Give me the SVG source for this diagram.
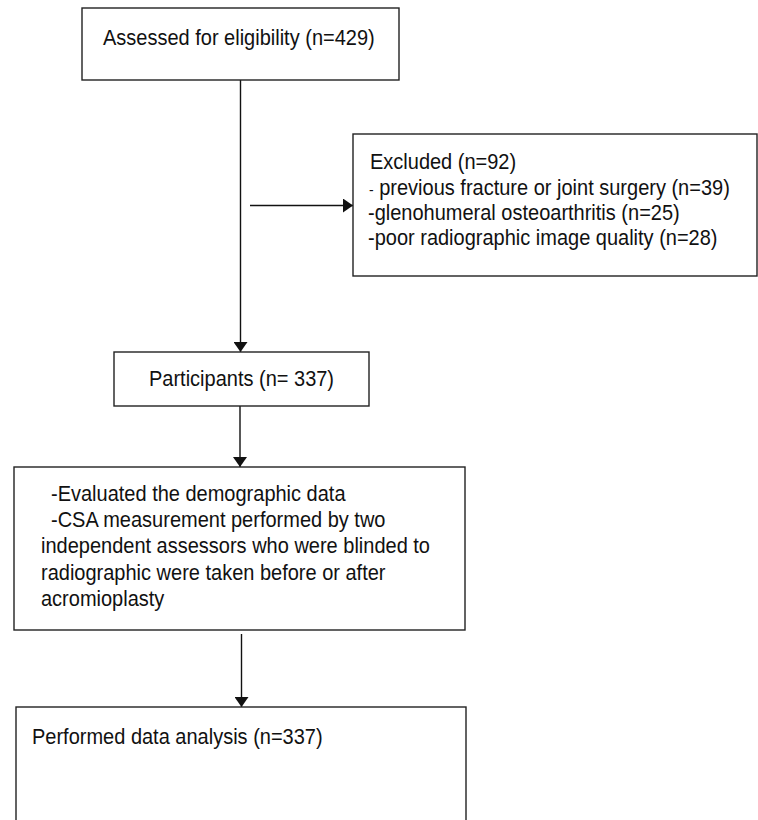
<svg xmlns="http://www.w3.org/2000/svg" width="758" height="820" viewBox="0 0 758 820">
<defs>
<marker id="ah" viewBox="0 0 10 14" refX="10" refY="7" markerWidth="10" markerHeight="14" markerUnits="userSpaceOnUse" orient="auto">
<path d="M0,0 L10,7 L0,14 Z" fill="#111"/>
</marker>
<style>
.box{fill:#fff;stroke:#222;stroke-width:1.4}
.t{font-family:"Liberation Sans",Arial,sans-serif;font-size:20px;fill:#111}
.c{stroke:#111;stroke-width:1.4;fill:none;marker-end:url(#ah)}
</style>
</defs>
<rect width="758" height="820" fill="#fff"/>
<g id="connectors">
<line class="c" x1="240.5" y1="80" x2="240.5" y2="352"/>
<line class="c" x1="250" y1="205.5" x2="353" y2="205.5"/>
<line class="c" x1="240" y1="406" x2="240" y2="467"/>
<line class="c" x1="241.5" y1="634" x2="241.5" y2="707"/>
</g>
<g id="assessed">
<rect class="box" x="82" y="8" width="317" height="72"/>
<text class="t" transform="translate(103,44.5) scale(1,1.1)">Assessed for eligibility (n=429)</text>
</g>
<g id="excluded">
<rect class="box" x="353" y="134" width="404" height="142"/>
<text class="t" transform="translate(370,169) scale(1,1.1)">Excluded (n=92)</text>
<text class="t" transform="translate(369,195) scale(1,1.1)"><tspan font-size="14">-</tspan> previous fracture or joint surgery (n=39)</text>
<text class="t" transform="translate(368,220) scale(1,1.1)">-glenohumeral osteoarthritis (n=25)</text>
<text class="t" transform="translate(368,245) scale(1,1.1)">-poor radiographic image quality (n=28)</text>
</g>
<g id="participants">
<rect class="box" x="114" y="352" width="255" height="54"/>
<text class="t" transform="translate(149,386) scale(1,1.1)">Participants (n= 337)</text>
</g>
<g id="evaluation">
<rect class="box" x="14" y="467" width="451" height="163"/>
<text class="t" transform="translate(51,501) scale(1,1.1)">-Evaluated the demographic data</text>
<text class="t" transform="translate(51,527) scale(1,1.1)">-CSA measurement performed by two</text>
<text class="t" transform="translate(41,553) scale(1,1.1)">independent assessors who were blinded to</text>
<text class="t" transform="translate(41,580) scale(1,1.1)">radiographic were taken before or after</text>
<text class="t" transform="translate(41,606) scale(1,1.1)">acromioplasty</text>
</g>
<g id="analysis">
<rect class="box" x="16" y="707" width="450" height="130"/>
<text class="t" transform="translate(32,744) scale(1,1.1)">Performed data analysis (n=337)</text>
</g>
</svg>
